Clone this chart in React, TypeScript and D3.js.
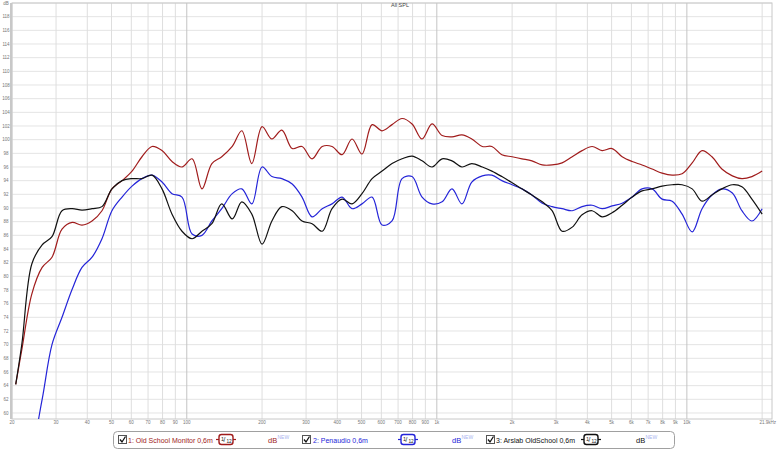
import React from "react";
import * as d3 from "d3";

const FREQ = [20.7, 21.9, 24.0, 26.4, 28.9, 31.7, 34.8, 38.1, 41.8, 45.8, 50.2, 55.1, 60.4, 66.2, 72.6, 79.6, 87.3, 95.7, 105, 115, 126, 138, 152, 166, 182, 200, 219, 240, 264, 289, 317, 348, 381, 418, 458, 502, 551, 604, 662, 726, 796, 873, 957, 1050, 1150, 1260, 1380, 1520, 1660, 1820, 2000, 2190, 2400, 2640, 2890, 3170, 3480, 3810, 4180, 4580, 5020, 5510, 6040, 6620, 7260, 7960, 8730, 9570, 10500, 11500, 12600, 13800, 15200, 16600, 18200, 20000];

const OLD_SCHOOL = [64.2, 69.3, 77.4, 81.3, 82.8, 86.9, 87.9, 87.5, 88.1, 89.6, 92.8, 94.0, 95.4, 97.5, 99.0, 98.4, 96.8, 96.0, 97.2, 92.8, 96.5, 97.5, 99.0, 101.3, 96.5, 101.9, 100.1, 101.4, 98.7, 99.0, 97.2, 99.0, 99.0, 97.8, 100.1, 97.9, 102.2, 101.3, 102.2, 103.1, 102.3, 100.1, 102.3, 100.6, 100.4, 100.7, 100.1, 99.0, 99.0, 97.8, 97.5, 97.2, 96.9, 96.3, 96.3, 96.6, 97.5, 98.4, 99.0, 98.4, 98.7, 97.5, 96.8, 96.3, 95.7, 95.1, 94.8, 95.0, 96.6, 98.4, 97.5, 95.7, 94.7, 94.3, 94.6, 95.4];

const PENAUDIO = [50.3, 51.7, 54.7, 62.0, 70.0, 74.0, 78.1, 81.3, 82.8, 85.5, 89.6, 91.6, 93.2, 94.3, 94.8, 93.8, 92.1, 91.6, 86.2, 86.0, 88.1, 89.9, 92.1, 92.8, 90.6, 96.0, 94.6, 94.3, 93.5, 91.6, 88.7, 89.9, 90.6, 91.6, 89.9, 90.6, 91.6, 87.5, 88.1, 94.3, 94.6, 91.6, 90.6, 90.9, 92.8, 90.6, 93.8, 94.7, 94.8, 94.0, 93.4, 92.8, 91.9, 90.7, 90.2, 89.9, 89.6, 90.2, 90.4, 89.9, 90.3, 90.7, 91.6, 92.8, 92.8, 91.3, 91.0, 89.1, 86.5, 89.9, 91.9, 92.8, 92.2, 89.6, 88.1, 89.9];

const ARSLAB = [64.2, 70.1, 81.8, 84.6, 85.8, 89.6, 89.9, 89.7, 89.9, 90.2, 92.8, 94.0, 94.3, 94.3, 94.8, 92.8, 89.1, 86.6, 85.5, 86.6, 87.7, 90.6, 88.4, 90.9, 89.1, 84.7, 88.1, 90.2, 89.6, 88.1, 87.7, 86.6, 89.9, 91.3, 90.6, 92.1, 94.3, 95.4, 96.5, 97.2, 97.6, 96.9, 96.0, 97.2, 96.9, 96.0, 96.5, 96.0, 95.4, 94.6, 93.7, 92.8, 91.9, 90.9, 89.6, 86.6, 87.2, 89.0, 89.6, 88.7, 89.3, 90.4, 91.6, 92.5, 92.8, 93.2, 93.4, 93.4, 92.8, 91.0, 91.9, 92.8, 93.4, 93.1, 91.3, 89.1];

const SERIES_NAMES = ["1: Old School Monitor 0,6m", "2: Penaudio 0,6m", "3: Arslab OldSchool 0,6m"];
const SERIES_COLORS = ["#a01c1c", "#2424d8", "#111111"];

const Y_TICKS = d3.range(60, 121, 2);
const X_GRID = [20, 30, 40, 50, 60, 70, 80, 90, 100, 200, 300, 400, 500, 600, 700, 800, 900, 1000, 2000, 3000, 4000, 5000, 6000, 7000, 8000, 9000, 10000, 20000];
const X_LABELS = ["20", "30", "40", "50", "60", "70", "80", "90", "100", "200", "300", "400", "500", "600", "700", "800", "900", "1k", "2k", "3k", "4k", "5k", "6k", "7k", "8k", "9k", "10k", ""];
const X_MAX = 21900;
const X_MAX_LABEL = "21.9kHz";
const Y_UNIT = "dB";

const L = 12, R = 772, T = 3, B = 419;

export default function App() {
  const x = d3.scaleLog().domain([20, X_MAX]).range([L, R]);
  const y = d3.scaleLinear().domain([59.12, 120]).range([B, T]);
  const line = d3
    .line<[number, number]>()
    .x((d) => x(d[0]))
    .y((d) => y(d[1]))
    .curve(d3.curveCatmullRom.alpha(0.5));
  const series = [OLD_SCHOOL, PENAUDIO, ARSLAB];
  const font = "Liberation Sans, Arial, sans-serif";

  const legendItems = [
    { cb: 118, text: 128, icon: 219, db: 268 },
    { cb: 302, text: 313, icon: 401, db: 452 },
    { cb: 486, text: 496, icon: 584, db: 636 },
  ];

  return (
    <svg width={780} height={450} style={{ position: "absolute", left: 0, top: 0, background: "#fff" }} fontFamily={font}>
      <defs>
        <clipPath id="plotclip">
          <rect x={L} y={T} width={R - L} height={B - T} />
        </clipPath>
      </defs>
      <rect x={0} y={0} width={780} height={450} fill="#ffffff" />
      {Y_TICKS.map((v) => (
        <line key={"h" + v} x1={L} x2={R} y1={y(v)} y2={y(v)} stroke="#e4e4e4" strokeWidth={1} />
      ))}
      {X_GRID.map((f) => {
        const major = f === 100 || f === 1000 || f === 10000;
        return (
          <line key={"v" + f} x1={x(f)} x2={x(f)} y1={T} y2={B} stroke={major ? "#c4c4c4" : "#dedede"} strokeWidth={1} />
        );
      })}
      <rect x={L} y={T} width={R - L} height={B - T} fill="none" stroke="#c8c8c8" strokeWidth={1} />
      <line x1={L - 1} x2={L - 1} y1={T} y2={B} stroke="#c8c8c8" strokeWidth={2} />
      <g clipPath="url(#plotclip)">
        {series.map((vals, i) => (
          <path
            key={"s" + i}
            d={line(FREQ.map((f, j) => [f, vals[j]] as [number, number])) || ""}
            fill="none"
            stroke={SERIES_COLORS[i]}
            strokeWidth={1.2}
          />
        ))}
      </g>
      {Y_TICKS.map((v) => (
        <text key={"yl" + v} x={6} y={y(v) + 1.8} fontSize={4.5} fill="#777" textAnchor="middle">
          {v === 120 ? Y_UNIT : v}
        </text>
      ))}
      {X_GRID.map((f, i) => (
        <text key={"xl" + f} x={x(f)} y={424} fontSize={4.5} fill="#777" textAnchor="middle">
          {X_LABELS[i]}
        </text>
      ))}
      <text x={776} y={424} fontSize={4.5} fill="#777" textAnchor="end">{X_MAX_LABEL}</text>
      <text x={400} y={7} fontSize={5.5} fill="#444" textAnchor="middle">All SPL</text>

      <rect x={113.5} y={431.5} width={561} height={17} rx={4} fill="#ffffff" stroke="#a0a0a0" strokeWidth={1} />
      {legendItems.map((p, i) => {
        const c = SERIES_COLORS[i];
        return (
          <g key={"lg" + i}>
            <rect x={p.cb + 0.5} y={435.5} width={8} height={8} fill="#fff" stroke="#555" strokeWidth={1} />
            <path d={`M${p.cb + 2},${439.5} L${p.cb + 4},${442} L${p.cb + 7.5},${436.5}`} fill="none" stroke="#111" strokeWidth={1.3} />
            <text x={p.text} y={442.5} fontSize={7} fill={c}>{SERIES_NAMES[i]}</text>
            <line x1={p.icon - 3} x2={p.icon + 17} y1={439.5} y2={439.5} stroke={c} strokeWidth={1.2} />
            <rect x={p.icon} y={434.5} width={14} height={10} rx={2.5} fill="#fff" stroke={c} strokeWidth={1.4} />
            <text x={p.icon + 2} y={441} fontSize={5.5} fill="#222">1</text>
            <text x={p.icon + 4.6} y={442} fontSize={6.5} fill="#222">/</text>
            <text x={p.icon + 7.4} y={443.3} fontSize={4.8} fill="#222">12</text>
            <text x={p.db} y={442.5} fontSize={7.5} fill={c}>dB</text>
            <text x={p.db + 9.5} y={438.5} fontSize={5} fill="#a8b4ee">NEW</text>
          </g>
        );
      })}
    </svg>
  );
}
